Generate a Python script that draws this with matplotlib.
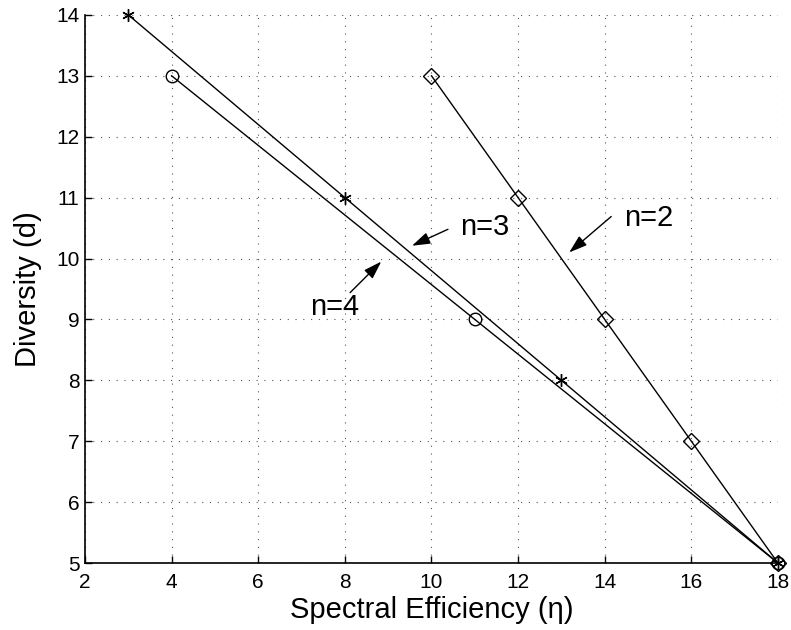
import numpy as np
import matplotlib.pyplot as plt

plt.rcParams['font.family'] = ['Liberation Sans', 'DejaVu Sans']

# diversity vs spectral efficiency for n = 2, 3, 4
eta_n2 = [10, 12, 14, 16, 18]
div_n2 = [13, 11, 9, 7, 5]
eta_n3 = [3, 8, 13, 18]
div_n3 = [14, 11, 8, 5]
eta_n4 = [4, 11, 18]
div_n4 = [13, 9, 5]

x_ticks = [2, 4, 6, 8, 10, 12, 14, 16, 18]
y_ticks = [5, 6, 7, 8, 9, 10, 11, 12, 13, 14]

fig = plt.figure(figsize=(7.91, 6.3), dpi=100)
ax = fig.add_axes([0.1075, 0.1063, 0.876, 0.87])

ax.plot(eta_n2, div_n2, color='k', linewidth=1.0, marker='D', markersize=8,
        markerfacecolor='none', markeredgewidth=1.0, clip_on=False, zorder=3)
ax.plot(eta_n3, div_n3, color='k', linewidth=1.0, marker=(6, 2, 0), markersize=9,
        markeredgewidth=1.0, clip_on=False, zorder=3)
ax.plot(eta_n4, div_n4, color='k', linewidth=1.0, marker='o', markersize=9,
        markerfacecolor='none', markeredgewidth=1.0, clip_on=False, zorder=3)

ax.set_xlim(2, 18)
ax.set_ylim(5, 14)
ax.set_xticks(x_ticks)
ax.set_yticks(y_ticks)
ax.tick_params(direction='in', labelsize=15, length=5, width=1)
ax.tick_params(axis='x', pad=7)
ax.tick_params(axis='y', pad=4)
ax.grid(True, linestyle=(0, (1, 6)), color='#555555', linewidth=0.8)
ax.spines['top'].set_visible(False)
ax.spines['right'].set_visible(False)
ax.spines['left'].set_linewidth(1.2)
ax.spines['bottom'].set_linewidth(1.2)

ax.set_xlabel('Spectral Efficiency (\u03b7)', fontsize=21, labelpad=3)
ax.set_ylabel('Diversity (d)', fontsize=21, labelpad=10)

# labels with arrows pointing at each curve
arrow = dict(arrowstyle='-|>,head_length=0.55,head_width=0.18', color='k',
             linewidth=1.0, shrinkA=0, shrinkB=0, mutation_scale=20)
ax.annotate('', xy=(13.18, 10.10), xytext=(14.15, 10.69), arrowprops=arrow)
ax.text(14.45, 10.67, 'n=2', fontsize=21, ha='left', va='center')
ax.annotate('', xy=(9.55, 10.21), xytext=(10.38, 10.48), arrowprops=arrow)
ax.text(10.65, 10.52, 'n=3', fontsize=21, ha='left', va='center')
ax.annotate('', xy=(8.84, 9.95), xytext=(8.12, 9.44), arrowprops=arrow)
ax.text(7.77, 9.21, 'n=4', fontsize=21, ha='center', va='center')

fig.savefig('out.png', dpi=100)
